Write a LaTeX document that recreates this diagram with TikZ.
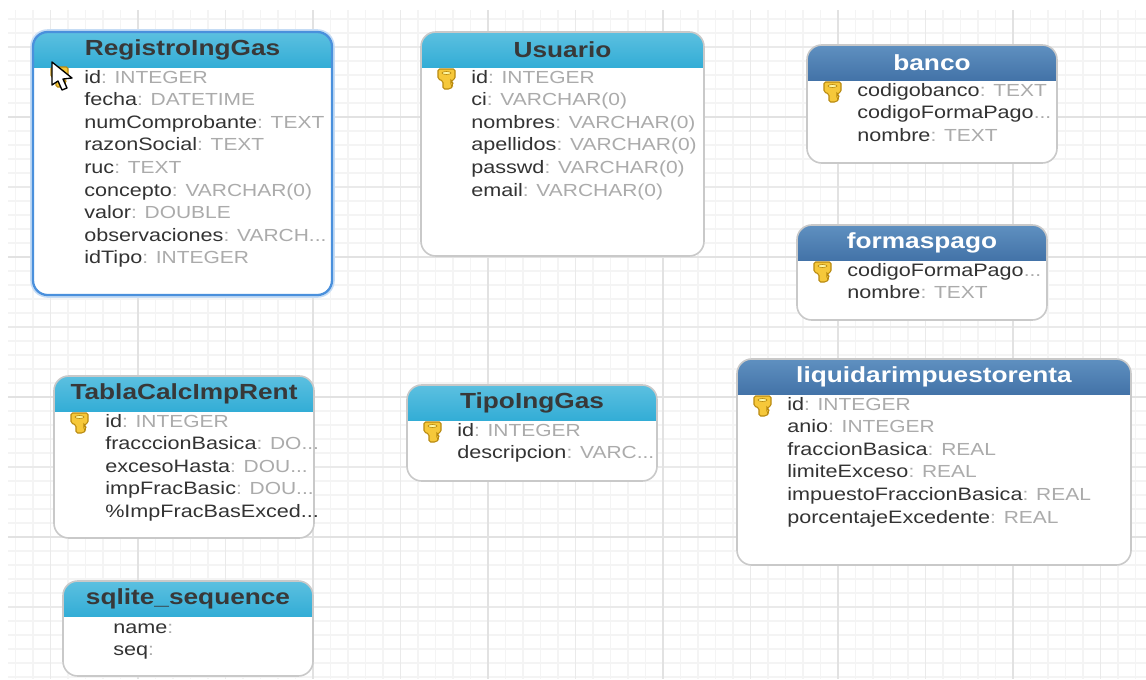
\documentclass[tikz,border=0pt]{standalone}
\usepackage{fontspec}
\setmainfont[FakeStretch=1.2]{Liberation Sans}
\definecolor{gridmenor}{HTML}{F4F4F4}
\definecolor{gridmedia}{HTML}{EAEAEA}
\definecolor{gridmayor}{HTML}{E2E2E2}
\definecolor{celesteA}{HTML}{5CC0E0}
\definecolor{celesteB}{HTML}{33ADD6}
\definecolor{azulA}{HTML}{5F90C0}
\definecolor{azulB}{HTML}{4373A8}
\definecolor{tipogris}{HTML}{ABABAB}
\definecolor{selAzul}{HTML}{4A90DC}
\definecolor{selBrillo}{HTML}{C5DCF5}
\definecolor{llaveOro}{HTML}{F6C83A}
\definecolor{llaveBorde}{HTML}{B98A10}
\tikzset{
	cabCeleste/.style = {top color = celesteA, bottom color = celesteB},
	cabAzul/.style = {top color = azulA, bottom color = azulB},
	borde/.style = {draw = black!21, line width = 1.2pt},
	bordeSel/.style = {draw = selAzul, line width = 1.7pt},
	brillo/.style = {draw = selBrillo, line width = 4.2pt},
	titCeleste/.style = {font = \fontsize{16.4}{18}\bfseries, text = black!78},
	titAzul/.style = {font = \fontsize{16.4}{18}\bfseries, text = white},
	campo/.style = {anchor = base west, inner sep = 0, font = \fontsize{13.5}{15}\selectfont, text = black!80},
}
% tabla: nombre, izq, arriba, der, abajo, fin cabecera, color, borde, titulo
\newcommand{\tabla}[9]{
	\fill[white, rounded corners = 11pt] (#2, #3) rectangle (#4, #5);
	\begin{scope}
		\clip[rounded corners = 11pt] (#2, #3) rectangle (#4, #5);
		\path[cab#7] (#2, #3) rectangle (#4, #6);
	\end{scope}
	\draw[#8, rounded corners = 11pt] (#2, #3) rectangle (#4, #5);
	\node[tit#7] (#1) at ({(#2 + #4)/2}, {(#3 + #6)/2}) {#9};
}
% filas: nombre, x, y, lista
\newcommand{\filas}[4]{
	\foreach \campoN/\campoT [count = \i from 0] in {#4}
		\node[campo] (#1-\i) at (#2, {#3 + 6 + 22.6*\i}) {\campoN\textcolor{tipogris}{\fontsize{13.1}{15}\selectfont\campoT}};
}
% llave dorada
\newcommand{\llave}[2]{
	\begin{scope}[shift = {(#1, #2)}]
		\draw[fill = llaveOro, draw = llaveBorde, line width = 0.8pt, rounded corners = 1.2pt]
			(0, 1) -- (17, 1) -- (17, 11) -- (13, 13) -- (13, 14) -- (16, 15) -- (13, 17) -- (15, 18) -- (12, 21) -- (5, 21) -- (5, 13) -- (0, 11) -- cycle;
		\draw[fill = yellow!35, draw = llaveBorde, line width = 0.5pt] (8.5, 5) ellipse (4.5 and 1.5);
	\end{scope}
}
\def\pts{...}
\begin{document}
\begin{tikzpicture}[x = 0.75pt, y = -0.75pt]
	\useasboundingbox (0, 0) rectangle (1146, 679);
	\fill[white] (0, 0) rectangle (1146, 679);

	% grid
	\foreach \i in {0,...,64} {
		\draw[gridmenor, line width = 0.8pt] ({15.5 + 17.5*\i}, 10) -- ({15.5 + 17.5*\i}, 679);
	}
	\foreach \i in {0,...,47} {
		\draw[gridmenor, line width = 0.8pt] (8, {19 + 14*\i}) -- (1146, {19 + 14*\i});
	}
	\foreach \i in {0,...,12} {
		\draw[gridmedia, line width = 0.8pt] ({50.5 + 87.5*\i}, 10) -- ({50.5 + 87.5*\i}, 679);
	}
	\foreach \i in {0,...,8} {
		\draw[gridmedia, line width = 0.8pt] (8, {47 + 70*\i}) -- (1146, {47 + 70*\i});
	}
	\foreach \i in {0,...,5} {
		\draw[gridmayor, line width = 0.8pt] ({138 + 175*\i}, 10) -- ({138 + 175*\i}, 679);
	}
	\foreach \i in {0,...,3} {
		\draw[gridmayor, line width = 0.8pt] (8, {117 + 140*\i}) -- (1146, {117 + 140*\i});
	}

	% tablas
	\draw[brillo, rounded corners = 11pt] (33, 32) rectangle (332, 295);
	\tabla{registro}{33}{32}{332}{295}{67}{Celeste}{bordeSel}{RegistroIngGas}
	\llave{51}{66}
	\filas{reg}{84}{77}{id/: INTEGER, fecha/: DATETIME, numComprobante/: TEXT, razonSocial/: TEXT, ruc/: TEXT, concepto/: VARCHAR(0), valor/: DOUBLE, observaciones/: VARCH\pts, idTipo/: INTEGER}

	\tabla{usuario}{421}{32}{704}{256}{67}{Celeste}{borde}{Usuario}
	\llave{438}{68}
	\filas{usu}{471}{77}{id/: INTEGER, ci/: VARCHAR(0), nombres/: VARCHAR(0), apellidos/: VARCHAR(0), passwd/: VARCHAR(0), email/: VARCHAR(0)}

	\tabla{banco}{807}{45}{1057}{163}{80}{Azul}{borde}{banco}
	\llave{824}{81}
	\filas{ban}{857}{90}{codigobanco/: TEXT, codigoFormaPago/\pts, nombre/: TEXT}

	\tabla{formaspago}{797}{225}{1047}{320}{260}{Azul}{borde}{formaspago}
	\llave{814}{261}
	\filas{for}{847}{270}{codigoFormaPago/\pts, nombre/: TEXT}

	\tabla{liquidar}{737}{359}{1131}{565}{394}{Azul}{borde}{liquidarimpuestorenta}
	\llave{754}{395}
	\filas{liq}{787}{404}{id/: INTEGER, anio/: INTEGER, fraccionBasica/: REAL, limiteExceso/: REAL, impuestoFraccionBasica/: REAL, porcentajeExcedente/: REAL}

	\tabla{calc}{54}{376}{314}{538}{411}{Celeste}{borde}{TablaCalcImpRent}
	\llave{71}{412}
	\filas{cal}{105}{421}{id/: INTEGER, fracccionBasica/: DO\pts, excesoHasta/: DOU\pts, impFracBasic/: DOU\pts, \%ImpFracBasExced\pts/}

	\tabla{tipo}{407}{385}{657}{481}{420}{Celeste}{borde}{TipoIngGas}
	\llave{424}{421}
	\filas{tip}{457}{430}{id/: INTEGER, descripcion/: VARC\pts}

	\tabla{sqlite}{63}{581}{313}{676}{616}{Celeste}{borde}{sqlite\_sequence}
	\filas{seq}{113}{627}{name/:, seq/:}

	% cursor
	\draw[fill = white, draw = black, line width = 1pt, line join = round]
		(52, 62) -- (52, 85) -- (58, 81) -- (62, 90) -- (67, 88) -- (63, 79) -- (72, 78) -- cycle;
\end{tikzpicture}
\end{document}
